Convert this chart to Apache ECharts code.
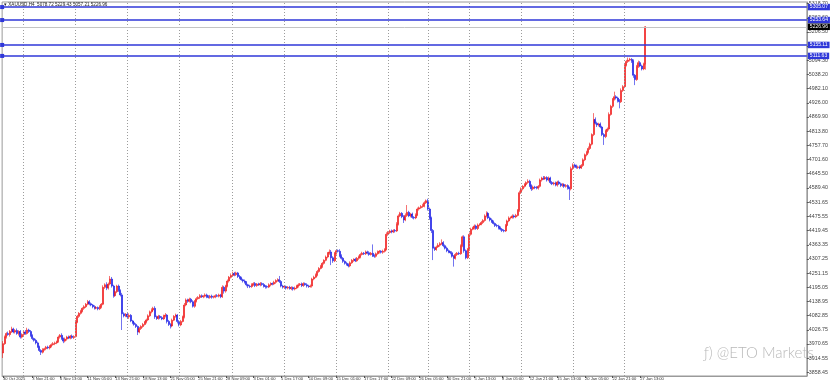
<!DOCTYPE html>
<html><head><meta charset="utf-8">
<script src="https://cdn.jsdelivr.net/npm/echarts@6/dist/echarts.min.js"></script>
<style>html,body{margin:0;padding:0;background:#fff}#c{width:831px;height:384px}</style>
</head><body><div id="c"></div>
<script>
// XAUUSD H4 closes, one per bar (bar 0 = 30 Oct 2025)
const closes = [
3972,3998,4012,4008,4020,4030,4018,4024,4012,4020,
3998,4008,4018,4012,4026,4020,4004,3992,3985,3975,
3960,3945,3938,3948,3952,3958,3955,3962,3968,3972,
3975,3980,3998,4005,3992,3982,3990,3998,3994,4002,
3996,4000,4058,4080,4092,4100,4112,4118,4128,4138,
4130,4125,4118,4112,4115,4110,4118,4128,4195,4205,
4192,4208,4228,4200,4162,4178,4200,4182,4165,4090,
4082,4088,4078,4084,4062,4055,4048,4040,4018,4032,
4040,4048,4058,4066,4082,4098,4105,4112,4078,4072,
4080,4075,4070,4082,4085,4060,4048,4042,4065,4080,
4085,4060,4046,4060,4078,4125,4145,4140,4148,4138,
4120,4140,4150,4155,4162,4158,4160,4165,4158,4155,
4160,4156,4158,4162,4160,4165,4158,4195,4180,4200,
4220,4235,4242,4250,4245,4252,4238,4232,4225,4220,
4215,4205,4200,4198,4205,4210,4202,4208,4205,4210,
4206,4200,4198,4196,4205,4210,4208,4215,4222,4225,
4218,4200,4196,4198,4192,4195,4190,4194,4188,4192,
4200,4205,4208,4202,4210,4205,4200,4198,4200,4228,
4235,4245,4258,4270,4278,4290,4302,4315,4330,4335,
4312,4300,4330,4340,4338,4320,4310,4298,4290,4285,
4280,4292,4302,4306,4300,4310,4315,4325,4330,4328,
4335,4332,4325,4330,4320,4318,4328,4335,4338,4334,
4338,4345,4405,4412,4418,4415,4420,4418,4445,4478,
4488,4475,4462,4480,4492,4478,4485,4472,4470,4482,
4505,4510,4515,4518,4530,4538,4505,4470,4420,4350,
4345,4355,4362,4368,4372,4360,4350,4340,4335,4332,
4318,4310,4325,4330,4328,4360,4395,4340,4312,4345,
4405,4425,4430,4438,4428,4442,4445,4452,4460,4478,
4488,4470,4462,4455,4448,4440,4438,4430,4425,4420,
4418,4440,4458,4470,4472,4478,4474,4480,4500,4570,
4585,4595,4602,4610,4615,4598,4585,4592,4590,4588,
4595,4620,4628,4625,4630,4620,4628,4610,4605,4608,
4600,4612,4605,4598,4602,4595,4598,4590,4585,4665,
4680,4675,4670,4672,4668,4678,4700,4720,4730,4745,
4762,4800,4860,4845,4838,4842,4830,4800,4792,4815,
4822,4880,4912,4940,4950,4945,4935,4930,4975,4990,
5075,5090,5095,5098,5092,5035,5018,5070,5085,5072,
5060,5078.72,5226.96
];
// upper wick above the body, per bar
const wickUp = [
10,6,5,8,6,9,5,6,8,5, 6,5,6,8,9,5,6,5,4,6, 5,4,5,6,4,5,6,4,5,6, 5,4,6,5,8,4,6,5,6,4,
6,5,8,6,5,6,4,6,5,7, 6,5,4,6,5,4,6,5,8,6, 10,6,12,8,5,6,5,6,5,8, 6,5,6,8,5,4,6,5,4,6,
5,6,4,5,6,5,7,6,8,5, 6,5,6,5,8,4,6,5,6,5, 6,4,5,6,5,8,6,5,6,5, 6,5,6,5,6,5,4,6,5,6,
5,6,4,5,6,5,4,8,6,5, 6,5,8,7,6,5,4,6,5,4, 6,5,4,5,6,5,6,4,5,6, 5,6,4,5,6,5,4,6,5,6,
15,6,5,6,4,5,6,5,4,6, 5,6,4,6,5,4,6,5,6,5, 6,5,6,5,6,5,4,6,5,10, 8,6,5,6,5,8,6,5,4,6,
5,6,5,4,6,5,6,5,6,5, 6,5,6,5,35,6,5,6,5,4, 6,5,8,6,5,6,5,6,8,6, 6,5,6,8,29,6,5,6,5,6,
6,5,6,8,6,5,8,6,5,6, 6,5,8,6,13,6,5,6,5,4, 6,5,6,5,6,5,5,6,5,6, 8,6,5,6,5,6,4,6,5,6,
8,6,5,6,5,4,6,5,6,5, 5,6,5,6,4,6,5,6,5,8, 6,5,6,5,8,6,5,6,5,6, 5,6,5,8,6,5,6,5,6,5,
6,5,6,5,6,5,6,5,4,8, 6,5,6,5,6,5,6,5,6,8, 6,5,25,8,6,5,6,5,6,5, 6,8,6,5,20,6,5,6,8,6,
8,6,10,6,5,6,5,6,8,6, 5,6,2.47
];
// lower wick below the body, per bar
const wickDown = [
20,5,6,5,8,6,5,6,5,8, 6,5,6,5,4,6,5,6,5,6, 5,6,11,5,4,6,5,6,5,4, 6,5,4,6,5,8,5,6,4,5,
5,6,4,5,6,5,4,6,5,4, 6,5,6,5,4,6,5,6,4,6, 8,6,5,6,8,5,6,5,6,64, 6,5,6,8,5,6,5,6,12,5,
6,5,4,6,5,4,6,5,8,6, 5,6,5,4,6,8,6,10,5,4, 5,8,6,5,4,6,5,6,5,6, 5,6,5,4,6,5,6,5,6,4,
5,6,5,6,4,5,6,5,10,6, 5,6,5,4,6,5,6,5,4,6, 5,6,8,6,5,4,6,5,4,6, 5,6,8,5,4,6,5,4,6,5,
6,5,6,5,6,5,4,6,6,5, 4,6,5,6,5,4,6,5,4,6, 5,4,6,5,4,6,5,4,5,6, 29,8,5,6,5,6,5,6,5,4,
6,5,4,6,5,4,6,5,4,5, 5,6,5,4,5,6,5,4,6,5, 6,5,4,6,5,6,5,6,4,5, 5,6,12,5,6,5,6,5,6,5,
5,6,4,5,6,5,6,8,10,47, 6,5,4,6,5,6,5,6,5,6, 5,33,5,6,5,4,6,8,6,5, 6,5,4,6,5,6,5,4,6,5,
6,5,6,5,4,6,5,6,5,6, 5,4,6,5,6,5,6,5,4,6, 5,6,5,6,5,6,8,5,6,5, 6,5,6,5,4,6,5,6,5,6,
5,6,5,6,5,6,5,8,44,6, 5,6,5,6,5,4,6,5,6,5, 6,5,6,5,8,6,5,6,33,6, 5,6,5,6,5,6,8,26,5,6,
6,5,6,5,8,10,22,5,6,5, 6,5,21.51
];
const firstOpen = 3935;
const xTickLabels = [
[0,'30 Oct 2025'],[17,'3 Nov 21:00'],[33,'6 Nov 13:00'],[49,'11 Nov 05:00'],[65,'13 Nov 21:00'],
[81,'18 Nov 13:00'],[97,'21 Nov 05:00'],[113,'25 Nov 21:00'],[129,'28 Nov 09:00'],[145,'3 Dec 01:00'],
[161,'5 Dec 17:00'],[177,'10 Dec 09:00'],[193,'15 Dec 01:00'],[209,'17 Dec 17:00'],[225,'22 Dec 09:00'],
[241,'26 Dec 05:00'],[257,'30 Dec 21:00'],[273,'5 Jan 13:00'],[289,'8 Jan 05:00'],[305,'12 Jan 21:00'],
[321,'15 Jan 13:00'],[337,'20 Jan 05:00'],[353,'22 Jan 21:00'],[369,'27 Jan 13:00']
];
const weekStarts = [12,42,72,102,133,163,193,223,246,270,300,330,360];
const yTicks = [3858.45,3914.55,3970.65,4026.75,4082.85,4138.95,4195.05,4251.15,4307.25,4363.35,
4419.45,4475.55,4531.65,4589.40,4645.50,4701.60,4757.70,4813.80,4869.90,4926.00,4982.10,5038.20,
5094.30,5150.40,5206.50,5262.60,5318.70];
const levelLines = [5305.07,5253.64,5155.11,5111.63];
const lastPrice = 5226.96;
const titleText = '\u25BE XAUUSD,H4  5078.72 5229.43 5057.21 5226.96';
const totalSlots = 466;

const ohlc = closes.map((c, i) => {
  const o = i === 0 ? firstOpen : closes[i - 1];
  return [o, c, Math.min(o, c) - wickDown[i], Math.max(o, c) + wickUp[i]];
});
const cats = Array.from({length: totalSlots}, (_, i) => String(i));
const labelMap = new Map(xTickLabels);

const chart = echarts.init(document.getElementById('c'), null, {renderer: 'canvas'});
const blue = '#2f37d9';
const markData = [];
weekStarts.forEach(w => markData.push({
  xAxis: String(w), symbol: 'none', label: {show: false},
  lineStyle: {color: '#9c9c9c', width: 1, type: [1, 2]}
}));
levelLines.forEach(v => markData.push({
  yAxis: v, symbol: ['rect', 'none'], symbolSize: [4, 4], itemStyle: {color: blue},
  lineStyle: {color: blue, width: 1.5, type: 'solid'},
  label: {show: true, position: 'end', distance: 1, formatter: v.toFixed(2), color: '#fff',
    backgroundColor: blue, fontSize: 5, fontFamily: 'Liberation Sans', padding: [1, 2, 0.5, 2]}
}));
markData.push({
  yAxis: lastPrice, symbol: 'none',
  lineStyle: {color: '#c4c4c4', width: 1, type: 'solid'},
  label: {show: true, position: 'end', distance: 1, formatter: lastPrice.toFixed(2), color: '#fff',
    backgroundColor: '#000', fontSize: 5, fontFamily: 'Liberation Sans', padding: [1, 2, 0.5, 2]}
});

chart.setOption({
  animation: false,
  backgroundColor: '#fff',
  grid: {left: 1, right: 24, top: 2, bottom: 8, show: true, borderColor: '#9a9a9a', borderWidth: 1},
  xAxis: {
    type: 'category', data: cats, boundaryGap: true,
    axisLine: {show: true, lineStyle: {color: '#9a9a9a'}},
    axisTick: {show: true, alignWithLabel: true, length: 2, interval: (i) => labelMap.has(i), lineStyle: {color: '#555'}},
    axisLabel: {show: true, interval: (i) => labelMap.has(i), formatter: (v, i) => labelMap.get(Number(v)) || '',
      align: 'left', fontSize: 4.1, color: '#333', margin: 1, fontFamily: 'Liberation Sans Narrow, Liberation Sans'},
    splitLine: {show: false}
  },
  yAxis: {
    type: 'value', position: 'right', min: 3843.8, max: 5325.2, scale: true,
    axisLine: {show: true, lineStyle: {color: '#9a9a9a'}},
    axisTick: {show: true, customValues: yTicks, length: 2, inside: false, lineStyle: {color: '#555'}},
    axisLabel: {show: true, customValues: yTicks, formatter: (v) => Number(v).toFixed(2), fontSize: 5.3,
      color: '#444', margin: 2, fontFamily: 'Liberation Sans'},
    splitLine: {show: false}
  },
  series: [{
    type: 'candlestick',
    data: ohlc,
    barWidth: 1.5,
    itemStyle: {color: '#f01515', color0: '#1418e6', borderColor: '#f01515', borderColor0: '#1418e6', borderWidth: 0.6},
    markLine: {silent: true, animation: false, symbol: 'none', data: markData}
  }],
  graphic: [
    {type: 'text', left: 4, top: 2, style: {text: titleText, fontSize: 4.6, fill: '#222', fontFamily: 'Liberation Sans'}},
    {type: 'text', left: 704, top: 346, style: {text: '\u0192) @ETO Markets', fontSize: 15, fill: '#b9b9b9', fontFamily: 'Lato', fontWeight: 300}}
  ]
});
</script></body></html>
